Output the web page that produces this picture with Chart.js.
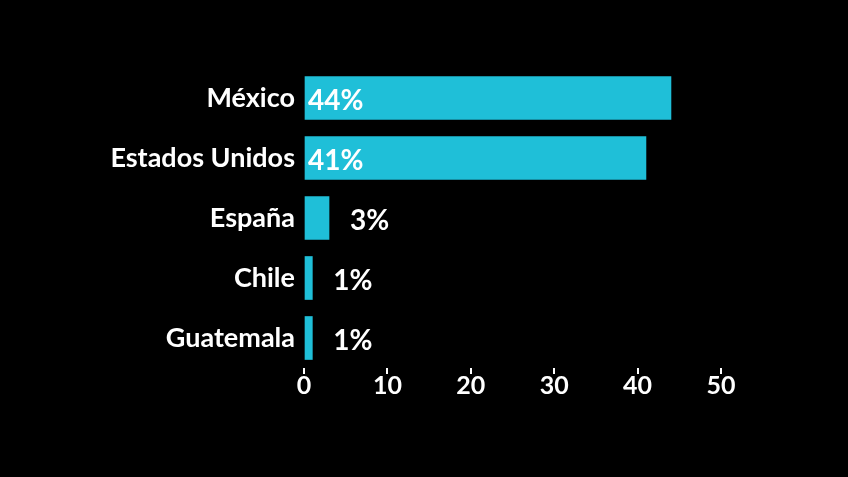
<!DOCTYPE html>
<html>
<head>
<meta charset="utf-8">
<script src="https://cdn.jsdelivr.net/npm/chart.js@4"></script>
<style>
  html, body { margin: 0; padding: 0; background: #000; }
  #wrap { width: 848px; height: 477px; }
</style>
</head>
<body>
<div id="wrap"><canvas id="chart" width="848" height="477"></canvas></div>
<script>
// ── DATA ────────────────────────────────────────────────────
const countries = ['México', 'Estados Unidos', 'España', 'Chile', 'Guatemala'];
const shares = [44, 41, 3, 1, 1];
const xTicks = [0, 10, 20, 30, 40, 50];

const FONT = 'Lato, "Open Sans", sans-serif';
const CYAN = '#1fbfd8';

// ── VALUE LABELS ────────────────────────────────────────────
const valueLabels = {
  id: 'valueLabels',
  afterDatasetsDraw(chart) {
    const c = chart.ctx;
    const meta = chart.getDatasetMeta(0);
    c.save();
    c.fillStyle = '#fff';
    c.font = '700 28px ' + FONT;
    c.textBaseline = 'middle';
    c.textAlign = 'left';
    meta.data.forEach((bar, i) => {
      const v = shares[i];
      const x = v > 10 ? bar.base + 3 : bar.x + 21;
      c.fillText(v + '%', x, bar.y + 3);
    });
    c.restore();
  }
};

// ── CHART ───────────────────────────────────────────────────
new Chart(document.getElementById('chart').getContext('2d'), {
  type: 'bar',
  data: {
    labels: countries,
    datasets: [{
      data: shares,
      backgroundColor: CYAN,
      borderWidth: 0,
      barThickness: 43
    }]
  },
  options: {
    indexAxis: 'y',
    responsive: false,
    animation: false,
    layout: { padding: { top: 68, right: 127, left: 0, bottom: 0 } },
    plugins: { legend: { display: false }, tooltip: { enabled: false } },
    scales: {
      x: {
        min: 0, max: 50,
        afterBuildTicks(scale) { scale.ticks = xTicks.map(v => ({ value: v })); },
        afterFit(scale) { scale.height = 109; },
        border: { display: false },
        grid: { drawOnChartArea: false, drawTicks: true, tickLength: 6, color: '#fff', lineWidth: 2 },
        ticks: { color: '#fff', padding: -3, font: { family: FONT, size: 25, weight: '700' } }
      },
      y: {
        afterFit(scale) { scale.width = 304; },
        border: { display: false },
        grid: { display: false, drawTicks: false },
        ticks: { color: '#fff', padding: 9, font: { family: FONT, size: 27, weight: '700' } }
      }
    }
  },
  plugins: [valueLabels]
});
</script>
</body>
</html>
